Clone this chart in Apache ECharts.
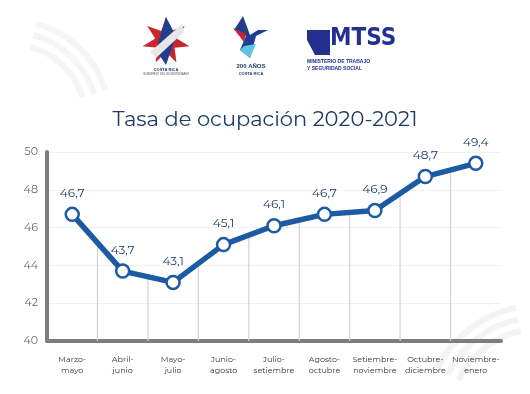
<!DOCTYPE html>
<html><head><meta charset="utf-8">
<script src="https://cdn.jsdelivr.net/npm/echarts@6/dist/echarts.min.js"></script>
<style>html,body{margin:0;padding:0;background:#fff}#c{width:530px;height:394px}</style>
</head><body><div id="c"></div>
<script>
const categories = ["Marzo-\nmayo","Abril-\njunio","Mayo-\njulio","Junio-\nagosto","Julio-\nsetiembre","Agosto-\noctubre","Setiembre-\nnoviembre","Octubre-\ndiciembre","Noviembre-\nenero"];
const values = [46.7, 43.7, 43.1, 45.1, 46.1, 46.7, 46.9, 48.7, 49.4];
const yTicks = {min: 40, max: 50, interval: 2};
const titleText = "Tasa de ocupación 2020-2021";

const navy = "#1d3b66";
const blue = "#1c5aa3";
const font = "Montserrat, 'Noto Sans', sans-serif";

function star(cx, cy, r1, r2, n, rot) {
  const pts = [];
  for (let i = 0; i < n * 2; i++) {
    const r = i % 2 ? r2 : r1;
    const a = rot + Math.PI * i / n;
    pts.push([cx + r * Math.sin(a), cy - r * Math.cos(a)]);
  }
  return pts;
}

const chart = echarts.init(document.getElementById('c'), null, {renderer: 'canvas'});
chart.setOption({
  animation: false,
  backgroundColor: '#fff',
  title: {
    text: titleText, left: 'center', top: 104,
    textStyle: {fontFamily: font, fontSize: 21, fontWeight: 'normal', color: navy}
  },
  grid: {left: 47, right: 29, top: 152, bottom: 53, containLabel: false},
  xAxis: {
    type: 'category', data: categories, boundaryGap: true,
    axisLine: {show: true, lineStyle: {color: '#7d7d7d', width: 4}},
    axisTick: {show: false},
    splitLine: {show: false},
    axisLabel: {fontFamily: font, fontSize: 8, color: '#333', margin: 13, lineHeight: 11, interval: 0}
  },
  yAxis: {
    type: 'value', min: yTicks.min, max: yTicks.max, interval: yTicks.interval,
    axisLine: {show: true, lineStyle: {color: '#7d7d7d', width: 4}},
    axisTick: {show: false},
    splitLine: {show: true, lineStyle: {color: '#f1f1f1', width: 1}},
    axisLabel: {fontFamily: font, fontSize: 11, color: '#6a6a6a', margin: 9}
  },
  series: [
    {
      type: 'custom', z: 1, silent: true,
      data: values.slice(0, -1).map((v, i) => [i, v, values[i + 1]]),
      renderItem: function (params, api) {
        const i = api.value(0);
        const p1 = api.coord([i, api.value(1)]);
        const p2 = api.coord([i + 1, api.value(2)]);
        const base = api.coord([i, yTicks.min]);
        const x = (p1[0] + p2[0]) / 2;
        const y = (p1[1] + p2[1]) / 2;
        return {type: 'line', shape: {x1: x, y1: y, x2: x, y2: base[1]},
          style: {stroke: '#d3d3d3', lineWidth: 1.2}};
      }
    },
    {
      type: 'line', data: values, z: 3,
      lineStyle: {color: blue, width: 5.5},
      symbol: 'circle', symbolSize: 13,
      itemStyle: {color: '#fff', borderColor: blue, borderWidth: 2.5},
      label: {show: true, position: 'top', distance: 7, fontFamily: font, fontSize: 12, color: navy,
        formatter: p => p.value.toFixed(1).replace('.', ',')}
    }
  ],
  graphic: [
    // decorative arcs
    {type: 'arc', shape: {cx: 10, cy: 120, r: 100, startAngle: -1.3, endAngle: -0.3}, style: {stroke: '#f5f5f5', lineWidth: 6, fill: null}},
    {type: 'arc', shape: {cx: 10, cy: 120, r: 88, startAngle: -1.3, endAngle: -0.3}, style: {stroke: '#f5f5f5', lineWidth: 6, fill: null}},
    {type: 'arc', shape: {cx: 10, cy: 120, r: 76, startAngle: -1.3, endAngle: -0.3}, style: {stroke: '#f5f5f5', lineWidth: 6, fill: null}},
    {type: 'arc', shape: {cx: 540, cy: 420, r: 115, startAngle: 3.6, endAngle: 4.5}, style: {stroke: '#f3f3f3', lineWidth: 6, fill: null}},
    {type: 'arc', shape: {cx: 540, cy: 420, r: 103, startAngle: 3.6, endAngle: 4.5}, style: {stroke: '#f3f3f3', lineWidth: 6, fill: null}},
    {type: 'arc', shape: {cx: 540, cy: 420, r: 91, startAngle: 3.6, endAngle: 4.5}, style: {stroke: '#f3f3f3', lineWidth: 6, fill: null}},
    // logo 1: star
    {type: 'polygon', shape: {points: star(166, 41, 24, 11, 7, 0)}, style: {fill: '#c8262c'}},
    {type: 'polygon', shape: {points: [[166,17],[176,36],[166,65],[156,50]]}, style: {fill: '#1f3e8f'}},
    {type: 'polygon', shape: {points: [[150,52],[182,24],[184,32],[156,58]]}, style: {fill: '#e6e6e6'}},
    {type: 'text', style: {text: 'COSTA RICA', x: 166, y: 68, align: 'center', font: 'bold 4px sans-serif', fill: '#1d3b66'}},
    {type: 'text', style: {text: 'GOBIERNO DEL BICENTENARIO', x: 166, y: 73, align: 'center', font: '3px sans-serif', fill: '#555'}},
    // logo 2: hummingbird
    {type: 'polygon', shape: {points: [[243,16],[250,35],[258,30],[268,30],[256,36],[250,58],[240,50],[246,36],[234,30]]}, style: {fill: '#1f3e8f'}},
    {type: 'polygon', shape: {points: [[233,28],[246,34],[244,42]]}, style: {fill: '#c8262c'}},
    {type: 'polygon', shape: {points: [[240,50],[250,58],[256,44],[244,46]]}, style: {fill: '#5cc6e0'}},
    {type: 'text', style: {text: '200 AÑOS', x: 251, y: 63, align: 'center', font: 'bold 6px sans-serif', fill: '#1d3b66'}},
    {type: 'text', style: {text: 'COSTA RICA', x: 251, y: 72, align: 'center', font: 'bold 4px sans-serif', fill: '#1d3b66'}},
    // logo 3: MTSS
    {type: 'text', style: {text: 'MTSS', x: 330, y: 27, font: 'bold 24px "DejaVu Sans Condensed", sans-serif', fill: '#23308f'}},
    {type: 'polygon', shape: {points: [[307,30],[330,30],[330,55],[315,55],[307,40]]}, style: {fill: '#23308f'}},
    {type: 'text', style: {text: 'MINISTERIO DE TRABAJO', x: 307, y: 59, font: 'bold 5px sans-serif', fill: '#23308f'}},
    {type: 'text', style: {text: 'Y SEGURIDAD SOCIAL', x: 307, y: 66, font: 'bold 5px sans-serif', fill: '#23308f'}}
  ]
});
</script></body></html>
